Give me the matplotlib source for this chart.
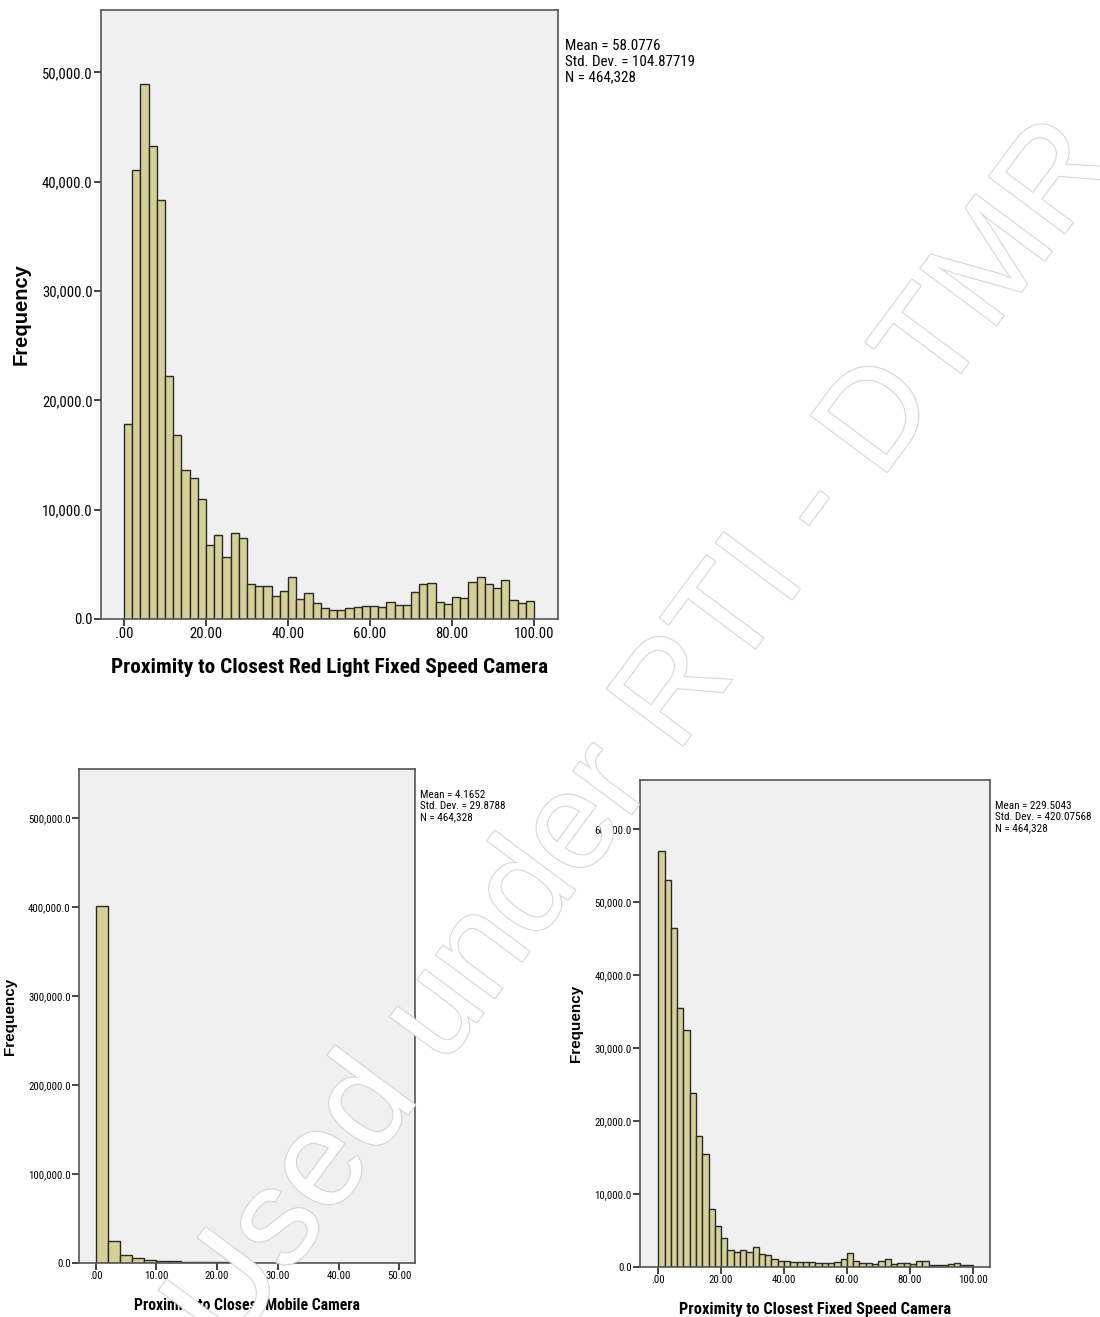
import numpy as np
import matplotlib
matplotlib.use('Agg')
import matplotlib.pyplot as plt
import matplotlib.patheffects as pe
from matplotlib import font_manager

# bin width 2 for every histogram
bin_width = 2

# red light fixed speed camera, bins 0-100
red_counts = [17800, 41100, 48900, 43300, 38300, 22250, 16800, 13600, 12850, 10960,
              6780, 7720, 5700, 7900, 7450, 3170, 3000, 3000, 2100, 2600,
              3850, 1800, 2350, 1470, 1040, 850, 850, 1040, 1100, 1160,
              1160, 1130, 1560, 1280, 1280, 2500, 3170, 3270, 1590, 1400,
              2000, 1950, 3360, 3800, 3170, 2870, 3570, 1710, 1440, 1620]

# mobile camera, bins 0-50
mobile_counts = [401500, 24300, 9300, 5600, 3700, 2600, 1800, 1300, 900, 700,
                 600, 500, 450, 400, 350, 300, 300, 250, 250, 200,
                 200, 200, 150, 150, 150]

# fixed speed camera, bins 0-100
fixed_counts = [56900, 53000, 46400, 35400, 32400, 23800, 17900, 15500, 7900, 5600,
                3900, 2330, 2050, 2370, 2100, 2800, 1740, 1600, 1050, 820,
                870, 680, 680, 650, 650, 500, 500, 600, 680, 1140,
                1960, 820, 550, 550, 370, 820, 1100, 400, 550, 550,
                370, 820, 820, 320, 320, 320, 400, 600, 320, 270]

red_stats = ['Mean = 58.0776', 'Std. Dev. = 104.87719', 'N = 464,328']
mobile_stats = ['Mean = 4.1652', 'Std. Dev. = 29.8788', 'N = 464,328']
fixed_stats = ['Mean = 229.5043', 'Std. Dev. = 420.07568', 'N = 464,328']

bar_col = '#d5cf98'
bg_col = '#f0f0f0'

# pick a narrow font if one is there
have = {f.name for f in font_manager.fontManager.ttflist}
narrow = None
for name in ['Liberation Sans Narrow', 'Roboto Condensed', 'Open Sans Condensed',
             'Roboto', 'Liberation Sans']:
    if name in have:
        narrow = name
        break
plt.rcParams['font.family'] = [narrow, 'DejaVu Sans'] if narrow else ['DejaVu Sans']
arial = ['Liberation Sans', 'DejaVu Sans']


def fmt_y(v):
    return '{:,.1f}'.format(v)


def fmt_x(v):
    s = '{:.2f}'.format(v)
    return s[1:] if s.startswith('0') else s


def hist(ax, counts, xticks, yticks, xlim, ylim, xlabel, stats,
         tsize, lsize, fsize, ssize, stats_dy):
    counts = np.array(counts)
    left = np.arange(len(counts)) * bin_width
    ax.bar(left, counts, width=bin_width, align='edge', color=bar_col,
           edgecolor='#2a2a2a', linewidth=1.0, zorder=2)
    ax.set_facecolor(bg_col)
    ax.set_xlim(xlim)
    ax.set_ylim(ylim)
    ax.set_xticks(xticks)
    ax.set_xticklabels([fmt_x(v) for v in xticks], fontsize=tsize)
    ax.set_yticks(yticks)
    ax.set_yticklabels([fmt_y(v) for v in yticks], fontsize=tsize)
    ax.tick_params(direction='out', length=5, width=1.2, color='#222222', pad=1)
    for s in ax.spines.values():
        s.set_color('#555555')
        s.set_linewidth(1.2)
    ax.set_xlabel(xlabel, fontsize=lsize, fontweight='bold', labelpad=12)
    ax.set_ylabel('Frequency', fontsize=fsize, fontweight='bold',
                  family=arial, labelpad=8)
    ax.text(1.015, stats_dy, '\n'.join(stats), transform=ax.transAxes,
            fontsize=ssize, va='top', ha='left', linespacing=1.12)


fig = plt.figure(figsize=(11, 13.17), dpi=100)

ax1 = fig.add_axes([0.0918, 0.530, 0.4155, 0.4624])
hist(ax1, red_counts, [0, 20, 40, 60, 80, 100],
     [0, 10000, 20000, 30000, 40000, 50000], (-5.6, 105.85), (0, 55700),
     'Proximity to Closest Red Light Fixed Speed Camera', red_stats,
     10.5, 15.3, 14.5, 10.8, 0.952)

ax2 = fig.add_axes([0.0718, 0.041, 0.3055, 0.3751])
hist(ax2, mobile_counts, [0, 10, 20, 30, 40, 50],
     [0, 100000, 200000, 300000, 400000, 500000], (-2.75, 52.6), (0, 555000),
     'Proximity to Closest Mobile Camera', mobile_stats,
     7.8, 11.3, 11, 8, 0.957)

ax3 = fig.add_axes([0.5818, 0.038, 0.3182, 0.3698])
hist(ax3, fixed_counts, [0, 20, 40, 60, 80, 100],
     [0, 10000, 20000, 30000, 40000, 50000, 60000], (-5.8, 105.5), (0, 66700),
     'Proximity to Closest Fixed Speed Camera', fixed_stats,
     7.8, 11.8, 11, 8, 0.957)

# watermark
fig.text(0.586, 0.44, 'Used under RTI - DTMR', fontsize=99, rotation=53.3,
         ha='center', va='center', color='white', alpha=0.85,
         family=arial, zorder=10,
         path_effects=[pe.withStroke(linewidth=1.8, foreground='#d0d0d0'),
                       pe.Normal()])

fig.savefig('out.png', dpi=100, facecolor='white')
